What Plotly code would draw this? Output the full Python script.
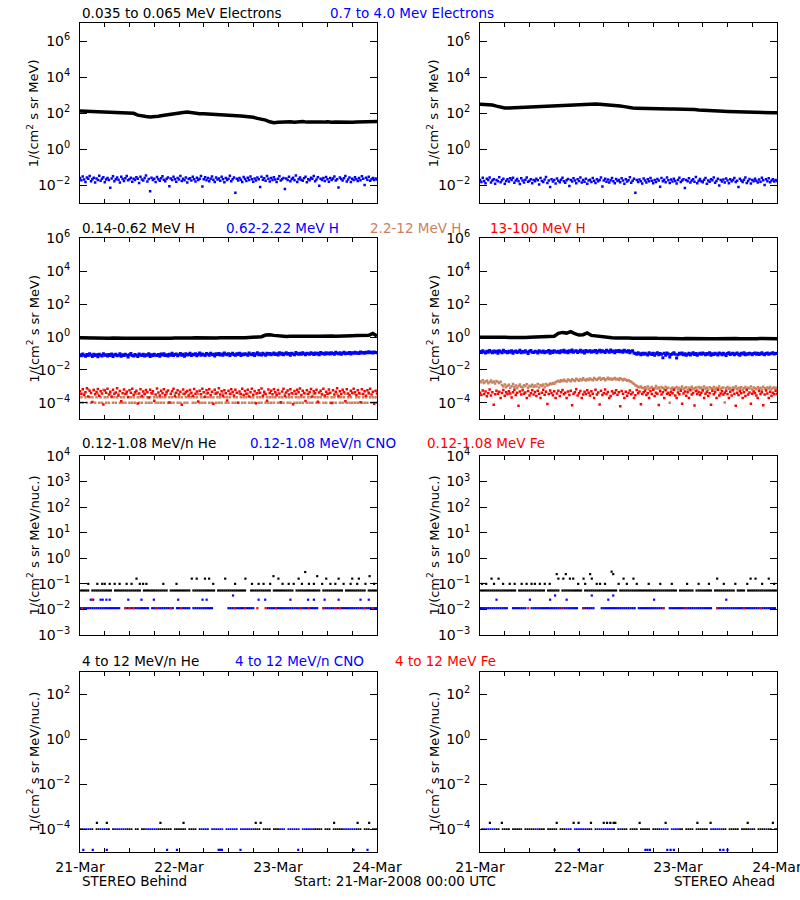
import plotly.graph_objects as go

NA = None
W, H = 800, 900

# ---------------- axes / labels ----------------
DAY_LABELS = ["21-Mar", "22-Mar", "23-Mar", "24-Mar"]
HOURS_60 = list(range(73))                 # hourly cadence, hours since 21-Mar 00:00
HOURS_30 = [i * 0.5 for i in range(145)]   # 30-min cadence
HOURS_20 = [i / 3 for i in range(217)]     # 20-min cadence

# ---------------- row 1 : electrons (log10 x100) ----------------
E_LO_L = [213, 212, 211, 210, 209, 207, 207, 206, 205, 205, 204, 203, 202, 200,
          190, 184, 182, 180, 181, 184, 188, 192, 196, 200, 203, 205, 207, 203,
          200, 198, 198, 197, 197, 195, 194, 193, 191, 189, 187, 185, 183, 181, 178, 172,
          168, 162, 153, 148, 150, 152,
          151, 153, 150, 152, 154, 151, 150, 153, 152, 151, 153, 150, 152, 151, 153, 152,
          150, 152, 153, 154, 153, 155, 155]
E_LO_R = [250, 249, 248, 246, 240, 233, 230, 229, 230, 231, 232, 233, 235, 236, 237,
          238, 239, 240, 242, 243, 244, 245, 247, 249, 250, 251, 252, 252, 251, 250,
          249, 248, 246, 243, 241, 237, 232, 229, 228, 227, 227, 226, 226, 225, 225,
          225, 224, 224, 224, 224, 223, 222, 221, 219, 217, 215, 213, 212, 211, 211,
          210, 209, 209, 208, 208, 207, 207, 206, 205, 205, 204, 203, 203]
E_HI_L = [
    -160, -172, -151, -168, -181, -156, -163, -149, -177, -166, -158, -185, -162, -170, -147, -175, -164, -155, -183, -168,
    -159, -171, -214, -162, -150, -178, -166, -157, -169, -184, -153, -165, -176, -161, -148, -172, -167, -158, -180, -163,
    -170, -155, -164, -187, -152, -168, -174, -160, -146, -179, -165, -233, -158, -171, -163, -182, -154, -167, -175, -161,
    -150, -169, -178, -164, -157, -205, -162, -171, -153, -166, -180, -159, -168, -148, -176, -163, -172, -156, -184, -165,
    -161, -174, -152, -167, -179, -158, -170, -163, -149, -207, -166, -155, -172, -160, -177, -164, -151, -169, -181, -157,
    -168, -162, -175, -153, -166, -183, -159, -171, -164, -147, -178, -167, -156, -242, -163, -173, -160, -169, -182, -154,
    -165, -176, -158, -170, -151, -167, -180, -162, -173, -157, -166, -210, -152, -169, -161, -175, -148, -164, -179, -160,
    -171, -155, -168, -182, -163, -150, -174, -166, -159, -221, -162, -170, -153, -177, -165, -158, -172, -146, -181, -167,
    -157, -169, -175, -161, -152, -183, -166, -172, -158, -164, -149, -178, -168, -155, -203, -163, -171, -160, -176, -154,
    -166, -180, -159, -170, -162, -151, -174, -167, -212, -156, -165, -173, -161, -148, -179, -168, -157, -182, -163, -170,
    -155, -167, -176, -160, -172, -150, -164, -198, -158, -169, -153, -175, -166, -159, -171, -162, -168]
E_HI_R = [
    -170, -181, -158, -176, -189, -164, -171, -157, -185, -174, -166, -192, -170, -178, -155, -183, -172, -163, -191, -176,
    -167, -179, -161, -170, -158, -186, -174, -165, -177, -193, -161, -173, -184, -169, -156, -180, -175, -166, -188, -171,
    -178, -163, -172, -195, -160, -176, -182, -168, -154, -187, -173, -210, -166, -179, -171, -190, -162, -175, -183, -169,
    -158, -177, -186, -172, -165, -204, -170, -179, -161, -174, -188, -167, -176, -156, -184, -171, -180, -164, -192, -173,
    -169, -182, -160, -175, -187, -166, -178, -171, -157, -206, -174, -163, -180, -168, -185, -172, -159, -177, -189, -165,
    -176, -170, -183, -161, -174, -191, -167, -179, -172, -155, -186, -175, -164, -241, -171, -181, -168, -177, -190, -162,
    -173, -184, -166, -178, -159, -175, -188, -170, -181, -165, -174, -208, -160, -177, -169, -183, -156, -172, -187, -168,
    -179, -163, -176, -190, -171, -158, -182, -174, -167, -215, -170, -178, -161, -185, -173, -166, -180, -154, -189, -175,
    -165, -177, -183, -169, -160, -191, -174, -180, -166, -172, -157, -186, -176, -163, -201, -171, -179, -168, -184, -162,
    -174, -188, -167, -178, -170, -159, -182, -175, -209, -164, -173, -181, -169, -156, -187, -176, -165, -190, -171, -178,
    -163, -175, -184, -168, -180, -158, -172, -199, -166, -177, -161, -183, -174, -167, -179, -170, -176]

# ---------------- row 2 : protons (log10 x100) ----------------
H_LO_L = [-5, -6, -7, -6, -5, -7, -8, -7, -6, -8, -9, -8, -7, -8, -9, -10, -9, -8, -7, -8,
          -9, -8, -7, -6, -7, -8, -7, -6, -5, -6, -7, -6, -5, -6, -5, -4, -5, -6, -5, -4,
          -5, -4, -3, -2, 2,
          12, 14, 10, 6, 4, 3, 4, 5, 3, 4, 5, 6, 5, 4, 6, 7, 6, 5, 7, 8, 7, 8, 9, 10, 11, 10, 22, 6]
H_LO_R = [-2, -3, -2, -1, -3, -2, -2, -3, -4, -3, -2, -3, -2, -1, -2, -3, -2, -1,
          5, 22, 28, 24, 33, 20, 12, 14, 25, 10, 6, 3, -2, -4,
          -5, -6, -5, -7, -6, -8, -7, -8, -9, -8, -7, -8, -9, -10, -9, -8, -9, -10, -9, -10,
          -11, -10, -9, -10, -11, -10, -9, -10, -11, -10, -9, -10, -11, -10, -9, -10, -9, -10, -11, -10, -10]
H_MID_L = [
    -108, -114, -103, -111, -117, -106, -112, -101, -109, -118, -105, -113, -107, -120, -104, -110, -115, -102, -111, -108,
    -116, -106, -112, -103, -119, -109, -105, -114, -110, -101, -117, -108, -113, -104, -111, -122, -107, -100, -112, -115,
    -106, -110, -118, -103, -109, -113, -105, -116, -108, -111, -102, -119, -107, -114, -104, -110, -112, -106, -117, -103,
    -109, -101, -113, -107, -115, -104, -110, -98, -112, -106, -103, -114, -108, -100, -111, -105, -117, -102, -109, -106,
    -99, -112, -104, -108, -101, -114, -106, -97, -110, -103, -107, -113, -100, -105, -111, -98, -108, -104, -115, -102,
    -106, -100, -109, -103, -111, -97, -105, -108, -101, -113, -104, -99, -107, -110, -102, -106, -98, -112, -103, -108,
    -101, -105, -110, -97, -104, -108, -100, -112, -103, -96, -107, -102, -109, -99, -105, -111, -98, -104, -100, -107,
    -103, -97, -106, -101, -109, -95, -104, -99, -108, -102, -96, -105, -100, -110, -98, -103, -107, -94, -101, -105,
    -99, -104, -96, -102, -107, -98, -101, -105, -95, -100, -106, -97, -103, -99, -108, -94, -102, -98, -104, -96,
    -101, -97, -103, -95, -100, -105, -93, -99, -102, -96, -104, -98, -92, -101, -97, -100, -94, -103, -96, -99,
    -93, -98, -95, -100, -91, -97, -94, -99, -92, -96, -90, -95, -93, -97, -91, -94, -96]
H_MID_R = [
    -88, -94, -84, -91, -97, -86, -92, -82, -89, -96, -85, -93, -87, -99, -83, -90, -95, -81, -91, -88,
    -95, -86, -92, -83, -98, -89, -85, -94, -90, -80, -96, -88, -93, -84, -91, -100, -87, -82, -92, -94,
    -86, -90, -97, -83, -89, -93, -85, -95, -88, -91, -82, -98, -87, -94, -84, -90, -92, -86, -96, -83,
    -89, -81, -93, -87, -95, -84, -90, -79, -92, -86, -83, -94, -88, -80, -91, -85, -97, -82, -89, -86,
    -84, -92, -85, -89, -82, -95, -87, -80, -91, -84, -88, -94, -81, -86, -92, -79, -89, -85, -96, -83,
    -88, -82, -90, -85, -93, -80, -87, -91, -84, -95, -86, -83, -97, -100, -104, -96, -102, -108, -99, -105,
    -98, -103, -109, -96, -101, -106, -99, -111, -102, -95, -107, -100, -104, -126, -98, -110, -97, -103, -122, -106,
    -101, -96, -105, -127, -108, -99, -103, -97, -107, -101, -110, -104, -98, -109, -102, -96, -106, -100, -111, -103,
    -99, -105, -97, -102, -108, -100, -104, -96, -110, -101, -106, -98, -103, -109, -97, -102, -107, -99, -104, -112,
    -100, -95, -106, -102, -98, -108, -101, -97, -104, -110, -99, -103, -96, -107, -101, -105, -98, -102, -108, -100,
    -97, -104, -99, -106, -101, -95, -103, -108, -100, -97, -105, -102, -99, -96, -103, -100, -98]
H_TAN_L = [
    -400, -366, -400, -345, -366, -400, -318, -366, -400, -366, -322, -400, -366, -345, -400, -366, -400, -320, -366, -400,
    -366, -400, -345, -366, -400, -366, -400, -366, -345, -400, -366, -400, -366, -400, -345, -366, -400, -366, -400, -366,
    -400, -345, -366, -400, -366, -400, -366, -345, -400, -366, -400, -366, -400, -345, -366, -400, -366, -400, -366, -400,
    -366, -400, -366, -345, -400, -366, -400, -366, -400, -345, -366, -400, -366, -400, -366, -345, -400, -366, -400, -366,
    -345, -366, -400, -366, -400, -366, -345, -400, -366, -400, -366, -400, -345, -366, -400, -366, -400, -366, -345, -400,
    -366, -400, -366, -400, -345, -366, -400, -366, -400, -366, -345, -400, -366, -400, -366, -400, -345, -366, -400, -366,
    -400, -366, -345, -400, -366, -400, -366, -400, -345, -366, -400, -366, -400, -366, -345, -400, -366, -400, -366, -400,
    -366, -400, -366, -345, -400, -366, -400, -366, -400, -345, -366, -400, -366, -400, -366, -345, -400, -366, -400, -366,
    -400, -366, -400, -366, -345, -400, -366, -400, -366, -400, -345, -366, -400, -366, -400, -366, -345, -400, -366, -400,
    -366, -345, -400, -366, -400, -366, -400, -345, -366, -400, -366, -400, -366, -345, -400, -366, -400, -366, -400, -345,
    -400, -366, -400, -366, -345, -400, -366, -400, -366, -400, -345, -366, -400, -366, -400, -366, -400]
H_TAN_R = [
    -268, -275, -262, -279, -270, -266, -281, -273, -264, -277, -271, -283, -267, -274, -280, -272, -292, -301, -288, -305,
    -296, -290, -309, -299, -285, -303, -294, -311, -297, -288, -302, -306, -293, -299, -287, -308, -296, -301, -290, -304,
    -295, -300, -286, -307, -292, -298, -289, -303, -285, -294, -290, -282, -287, -279, -284, -275, -270, -266, -272, -262,
    -268, -259, -265, -271, -258, -263, -269, -256, -262, -267, -254, -260, -266, -257, -263, -251, -259, -264, -255, -261,
    -252, -258, -263, -249, -256, -261, -253, -247, -259, -254, -250, -262, -256, -248, -257, -252, -260, -255, -249, -258,
    -254, -261, -251, -257, -263, -255, -259, -266, -262, -268, -272, -280, -286, -293, -298, -302, -306, -300, -308, -312,
    -305, -314, -301, -318, -309, -303, -316, -311, -298, -313, -307, -320, -304, -310, -317, -302, -312, -308, -399, -315,
    -306, -318, -311, -303, -319, -308, -314, -300, -316, -310, -305, -321, -309, -313, -302, -317, -311, -306, -320, -304,
    -312, -307, -318, -301, -314, -309, -322, -305, -311, -316, -303, -319, -308, -313, -300, -317, -310, -306, -398, -312,
    -304, -315, -310, -320, -307, -312, -301, -318, -309, -314, -305, -321, -311, -303, -316, -308, -313, -300, -319, -306,
    -311, -317, -305, -314, -309, -320, -302, -312, -316, -307, -313, -304, -318, -310, -306, -315, -309]
H_HI_L = [
    -330, -345, -318, -352, -336, -311, -362, -327, -340, -395, -322, -348, -334, -316, -357, -329, -343, -410, -325, -338,
    -314, -350, -332, -361, -321, -344, -337, -312, -355, -328, -390, -341, -319, -347, -333, -365, -324, -339, -315, -351,
    -336, -326, -404, -343, -317, -358, -331, -346, -322, -335, -368, -320, -342, -330, -388, -349, -313, -337, -356, -327,
    -341, -318, -353, -334, -325, -398, -345, -329, -314, -360, -338, -323, -350, -332, -412, -319, -346, -336, -328, -355,
    -322, -339, -357, -316, -344, -331, -392, -327, -348, -315, -335, -363, -324, -340, -318, -352, -333, -406, -321, -343,
    -337, -312, -349, -330, -359, -323, -341, -386, -326, -345, -317, -334, -356, -320, -339, -399, -331, -347, -314, -353,
    -328, -344, -321, -362, -336, -315, -351, -329, -402, -342, -324, -338, -313, -357, -333, -346, -387, -319, -340, -326,
    -348, -317, -335, -354, -322, -343, -396, -331, -314, -359, -337, -325, -350, -318, -341, -408, -328, -345, -321, -336,
    -313, -352, -327, -340, -389, -323, -346, -334, -316, -361, -330, -342, -320, -394, -337, -326, -349, -315, -355, -332,
    -344, -319, -338, -401, -324, -350, -333, -312, -358, -329, -347, -321, -336, -391, -317, -343, -354, -326, -339, -315,
    -335, -352, -323, -341, -397, -318, -346, -330, -357, -324, -338, -314, -349, -332, -405, -327, -343]
H_HI_R = [
    -338, -352, -325, -346, -331, -360, -342, -319, -355, -336, -412, -348, -327, -344, -333, -370, -340, -322, -357, -335,
    -347, -329, -343, -368, -336, -321, -353, -339, -418, -331, -350, -324, -345, -337, -370, -328, -356, -341, -323, -349,
    -334, -359, -326, -344, -370, -338, -320, -351, -332, -407, -347, -325, -340, -354, -330, -370, -343, -327, -358, -336,
    -322, -348, -339, -370, -331, -353, -326, -415, -345, -335, -318, -356, -341, -328, -370, -350, -333, -347, -324, -339,
    -356, -330, -344, -370, -321, -349, -337, -410, -327, -352, -342, -319, -346, -334, -370, -358, -329, -343, -338, -323,
    -351, -336, -420, -328, -345, -370, -332, -357, -340, -325, -348, -337, -370, -354, -322, -342, -331, -409, -346, -335,
    -326, -353, -341, -370, -330, -347, -321, -358, -338, -344, -413, -329, -350, -336, -370, -324, -345, -339, -352, -333,
    -342, -320, -355, -370, -337, -348, -327, -405, -343, -331, -357, -336, -370, -323, -349, -340, -416, -328, -346, -334,
    -353, -339, -325, -370, -344, -332, -359, -341, -411, -327, -348, -336, -370, -321, -355, -343, -330, -350, -338, -326,
    -347, -370, -333, -356, -324, -345, -417, -339, -352, -329, -342, -370, -335, -358, -322, -349, -337, -406, -344, -331,
    -340, -355, -370, -328, -346, -336, -414, -350, -325, -343, -370, -333, -357, -339, -348, -326, -345]

# ---------------- row 3 : 0.12-1.08 MeV/n heavy ions (30-min) ----------------
HE_L_BASE = [
    .055, .055, .055, .055, .055, NA, .055, .055, .055, .055,
    .055, .055, .055, .055, .055, .055, NA, .055, .055, .055,
    .055, .055, .055, .055, .055, .055, .055, .055, .055, .055,
    NA, .055, .055, .055, .055, .055, .055, .055, .055, .055,
    .055, .055, .055, NA, .055, .055, .055, .055, .055, .055,
    .055, .055, .055, .055, NA, .055, .055, .055, .055, .055,
    .055, .055, .055, .055, .055, .055, NA, .055, .055, .055,
    .055, .055, .055, .055, .055, .055, .055, .055, .055, .055,
    .055, NA, NA, .055, .055, .055, .055, .055, .055, .055,
    .055, .055, .055, NA, .055, .055, .055, .055, .055, .055,
    .055, .055, .055, .055, NA, .055, .055, .055, .055, .055,
    .055, .055, .055, .055, .055, .055, .055, NA, .055, .055,
    .055, .055, .055, .055, .055, .055, .055, .055, NA, .055,
    .055, .055, .055, .055, .055, .055, .055, .055, .055, NA,
    .055, .055, .055, .055, .055]
CNO_L_BASE = [
    .0112, .0112, .0112, .0112, .0112, .0112, .0112, .0112, .0112, .0112,
    .0112, .0112, .0112, .0112, .0112, .0112, .0112, .0112, .0112, .0112,
    NA, NA, .0112, .0112, .0112, .0112, .0112, .0112, .0112, .0112,
    .0112, .0112, .0112, .0112, NA, .0112, .0112, .0112, .0112, .0112,
    .0112, .0112, .0112, .0112, .0112, .0112, NA, .0112, .0112, .0112,
    .0112, .0112, .0112, .0112, NA, .0112, .0112, .0112, .0112, .0112,
    .0112, .0112, .0112, .0112, .0112, NA, NA, NA, NA, NA,
    NA, NA, .0112, .0112, .0112, .0112, .0112, .0112, .0112, .0112,
    .0112, .0112, .0112, .0112, .0112, NA, NA, NA, NA, NA,
    NA, .0112, .0112, .0112, .0112, .0112, .0112, .0112, .0112, .0112,
    .0112, .0112, .0112, .0112, .0112, .0112, .0112, .0112, .0112, .0112,
    .0112, .0112, .0112, .0112, .0112, .0112, NA, NA, .0112, .0112,
    .0112, .0112, .0112, .0112, .0112, .0112, .0112, .0112, .0112, .0112,
    .0112, .0112, .0112, .0112, .0112, .0112, .0112, .0112, .0112, .0112,
    .0112, .0112, .0112, .0112, .0112]
HE_R_BASE = [
    .055, .055, .055, .055, .055, .055, .055, .055, .055, .055,
    .055, .055, .055, .055, .055, .055, .055, .055, NA, .055,
    .055, .055, .055, .055, .055, .055, .055, .055, .055, .055,
    .055, .055, NA, .055, .055, .055, .055, .055, .055, NA,
    .055, .055, .055, .055, .055, .055, .055, .055, .055, .055,
    NA, .055, .055, .055, .055, .055, .055, .055, .055, .055,
    .055, .055, .055, .055, .055, .055, .055, NA, .055, .055,
    .055, .055, .055, .055, .055, .055, .055, .055, .055, .055,
    .055, .055, .055, .055, .055, .055, .055, .055, .055, .055,
    .055, .055, .055, .055, .055, .055, NA, .055, .055, .055,
    .055, .055, .055, .055, NA, .055, .055, .055, .055, .055,
    .055, .055, .055, NA, .055, .055, .055, .055, .055, .055,
    .055, .055, .055, .055, NA, .055, .055, .055, .055, NA,
    .055, .055, .055, .055, .055, .055, .055, .055, .055, .055,
    .055, .055, .055, .055, .055]
CNO_R_BASE = [
    .0112, .0112, .0112, .0112, .0112, .0112, .0112, .0112, .0112, .0112,
    .0112, .0112, .0112, .0112, NA, NA, .0112, .0112, .0112, .0112,
    .0112, .0112, .0112, NA, NA, .0112, .0112, .0112, .0112, .0112,
    .0112, .0112, .0112, .0112, .0112, .0112, .0112, .0112, .0112, .0112,
    .0112, .0112, .0112, .0112, .0112, .0112, .0112, .0112, NA, NA,
    .0112, .0112, .0112, .0112, .0112, .0112, NA, NA, NA, .0112,
    .0112, .0112, .0112, .0112, .0112, .0112, .0112, .0112, .0112, .0112,
    .0112, .0112, .0112, .0112, .0112, .0112, NA, .0112, .0112, .0112,
    .0112, .0112, .0112, .0112, .0112, .0112, .0112, .0112, .0112, .0112,
    NA, NA, .0112, .0112, .0112, .0112, .0112, .0112, .0112, .0112,
    .0112, .0112, .0112, .0112, .0112, .0112, .0112, .0112, .0112, .0112,
    .0112, .0112, .0112, NA, NA, .0112, .0112, .0112, .0112, .0112,
    .0112, .0112, .0112, .0112, .0112, .0112, .0112, .0112, .0112, .0112,
    .0112, .0112, .0112, .0112, .0112, .0112, .0112, .0112, .0112, .0112,
    .0112, .0112, .0112, .0112, NA]

HE_L_DOT_T = [2.0, 4.2, 5.4, 6.0, 7.2, 8.4, 9.6, 11.3, 12.5, 13.7, 14.5, 15.3, 16.1, 20.2, 23.4,
              27.1, 28.3, 30.3, 31.3, 32.3, 35.2, 37.6, 40.1, 41.7, 43.3, 44.5, 46.1, 46.9, 48.1,
              49.1, 50.6, 51.8, 53.0, 53.8, 54.6, 55.5, 56.7, 57.5, 58.7, 59.7, 60.7, 61.9, 62.7,
              63.9, 65.6, 66.0, 67.2, 67.6, 69.2, 70.2, 71.3]
HE_L_DOT_V = [.1, .1, .1, .1, .1, .1, .1, .1, .1, .16, .1, .1, .1, .1, .1,
              .16, .16, .16, .16, .1, .16, .1, .16, .1, .1, .1, .1, .2, .16,
              .1, .1, .1, .16, .1, .29, .1, .1, .2, .1, .16, .1, .1, .16,
              .1, .1, .16, .1, .16, .1, .2, .1]
HE_R_DOT_T = [0.5, 1.5, 2.8, 3.4, 4.5, 5.6, 7.2, 8.4, 10.1, 11.3, 12.5, 13.3, 14.5, 15.7, 16.9,
              18.6, 19.0, 20.2, 20.8, 21.8, 22.6, 23.8, 25.1, 25.5, 26.7, 27.1, 28.3, 29.1, 30.3,
              31.9, 32.3, 33.6, 34.8, 35.6, 37.2, 38.0, 40.9, 43.7, 46.5, 50.2, 53.0, 55.5, 57.5,
              59.1, 61.9, 64.8, 65.6, 66.8, 68.4, 70.0, 71.3]
HE_R_DOT_V = [.1, .1, .16, .1, .16, .1, .1, .1, .1, .1, .1, .1, .1, .1, .1,
              .24, .16, .16, .24, .16, .16, .1, .16, .1, .24, .16, .1, .1, .1,
              .3, .24, .1, .16, .1, .16, .1, .1, .1, .1, .1, .1, .1, .16,
              .1, .1, .1, .16, .16, .1, .16, .1]
CNO_L_DOT_T = [2.6, 3.2, 5.0, 5.5, 6.4, 7.2, 11.7, 14.9, 17.9, 23.8, 29.7, 30.7, 37.1, 43.3,
               44.9, 51.0, 55.3, 56.7, 59.3, 62.7, 68.0, 70.0]
CNO_L_DOT_V = [.024, .024, .024, .024, .024, .024, .024, .024, .024, .024, .024, .024, .035, .024,
               .024, .024, .024, .024, .024, .024, .024, .024]
CNO_R_DOT_T = [4.0, 12.1, 17.0, 18.2, 21.0, 27.1, 31.1, 32.3, 42.2, 59.7]
CNO_R_DOT_V = [.024, .024, .024, .035, .024, .035, .024, .035, .024, .024]
FE_L_T = [0.5, 2.9, 11.0, 12.0, 13.0, 18.5, 22.0, 24.5, 37.5, 40.0, 43.0, 45.0, 47.5, 53.5,
          55.5, 59.0, 62.0, 63.0, 69.0, 71.0]
FE_L_V = [.0112, .024, .0112, .0112, .0112, .0112, .0112, .0112, .0112, .0112, .0112, .0112,
          .0112, .0112, .0112, .0112, .0112, .0112, .0112, .0112]
FE_R_T = [11.7, 19.8, 25.1, 44.5, 49.8, 57.5, 64.0, 68.1]
FE_R_V = [.0112, .0112, .0112, .0112, .0112, .0112, .0112, .0112]

# ---------------- row 4 : 4-12 MeV/n heavy ions (30-min) ----------------
HE4_L_BASE = [
    1e-4, 1e-4, NA, NA, NA, 1e-4, 1e-4, NA, 1e-4, 1e-4,
    NA, NA, NA, 1e-4, 1e-4, NA, 1e-4, NA, NA, NA,
    NA, NA, NA, 1e-4, 1e-4, 1e-4, NA, 1e-4, 1e-4, NA,
    1e-4, 1e-4, NA, NA, NA, NA, NA, NA, 1e-4, 1e-4,
    1e-4, 1e-4, 1e-4, 1e-4, 1e-4, NA, 1e-4, 1e-4, 1e-4, 1e-4,
    1e-4, 1e-4, NA, 1e-4, 1e-4, 1e-4, 1e-4, NA, 1e-4, NA,
    NA, NA, NA, NA, NA, NA, NA, NA, NA, NA,
    NA, NA, NA, NA, NA, NA, NA, NA, NA, NA,
    NA, NA, NA, NA, NA, 1e-4, 1e-4, 1e-4, NA, 1e-4,
    1e-4, 1e-4, 1e-4, NA, 1e-4, 1e-4, 1e-4, NA, NA, NA,
    NA, NA, NA, NA, NA, NA, NA, NA, NA, NA,
    NA, NA, NA, NA, 1e-4, 1e-4, 1e-4, 1e-4, NA, 1e-4,
    1e-4, 1e-4, NA, 1e-4, 1e-4, 1e-4, 1e-4, 1e-4, NA, NA,
    NA, NA, NA, NA, 1e-4, 1e-4, 1e-4, NA, 1e-4, 1e-4,
    1e-4, NA, 1e-4, 1e-4, 1e-4]
CNO4_L_BASE = [
    NA, NA, 1e-4, 1e-4, 1e-4, NA, NA, NA, NA, NA,
    1e-4, 1e-4, 1e-4, NA, NA, NA, NA, 1e-4, 1e-4, 1e-4,
    1e-4, 1e-4, 1e-4, NA, NA, NA, NA, NA, NA, NA,
    NA, NA, 1e-4, 1e-4, 1e-4, 1e-4, 1e-4, 1e-4, NA, NA,
    NA, NA, NA, NA, NA, NA, NA, NA, NA, NA,
    NA, NA, NA, NA, NA, NA, NA, NA, NA, 1e-4,
    1e-4, 1e-4, 1e-4, NA, 1e-4, 1e-4, 1e-4, 1e-4, 1e-4, 1e-4,
    NA, 1e-4, 1e-4, 1e-4, 1e-4, 1e-4, 1e-4, NA, 1e-4, 1e-4,
    1e-4, 1e-4, 1e-4, 1e-4, 1e-4, NA, NA, NA, NA, NA,
    NA, NA, NA, NA, NA, NA, NA, 1e-4, 1e-4, 1e-4,
    NA, 1e-4, 1e-4, 1e-4, 1e-4, 1e-4, 1e-4, NA, 1e-4, 1e-4,
    1e-4, 1e-4, 1e-4, 1e-4, NA, NA, NA, NA, NA, NA,
    NA, NA, NA, NA, NA, NA, NA, NA, 1e-4, 1e-4,
    1e-4, 1e-4, 1e-4, 1e-4, NA, NA, NA, NA, NA, NA,
    NA, NA, NA, NA, NA]
HE4_R_BASE = [
    NA, 1e-4, NA, NA, NA, NA, NA, NA, 1e-4, 1e-4,
    NA, 1e-4, 1e-4, 1e-4, 1e-4, NA, 1e-4, 1e-4, 1e-4, 1e-4,
    1e-4, NA, 1e-4, 1e-4, 1e-4, 1e-4, 1e-4, NA, NA, 1e-4,
    1e-4, 1e-4, NA, 1e-4, 1e-4, 1e-4, 1e-4, 1e-4, NA, 1e-4,
    1e-4, 1e-4, NA, NA, NA, NA, NA, NA, NA, NA,
    NA, NA, NA, 1e-4, 1e-4, NA, 1e-4, NA, NA, NA,
    NA, NA, NA, NA, NA, 1e-4, NA, 1e-4, NA, 1e-4,
    1e-4, 1e-4, NA, 1e-4, 1e-4, 1e-4, 1e-4, NA, 1e-4, 1e-4,
    1e-4, 1e-4, 1e-4, NA, 1e-4, 1e-4, 1e-4, 1e-4, NA, NA,
    NA, NA, NA, NA, NA, NA, NA, 1e-4, 1e-4, NA,
    1e-4, 1e-4, 1e-4, 1e-4, NA, 1e-4, 1e-4, 1e-4, 1e-4, 1e-4,
    1e-4, NA, NA, NA, NA, NA, NA, NA, 1e-4, 1e-4,
    NA, 1e-4, 1e-4, 1e-4, 1e-4, 1e-4, NA, 1e-4, 1e-4, 1e-4,
    1e-4, NA, 1e-4, 1e-4, NA, 1e-4, 1e-4, 1e-4, 1e-4, NA,
    1e-4, 1e-4, NA, 1e-4, 1e-4]
CNO4_R_BASE = [
    NA, NA, 1e-4, 1e-4, 1e-4, 1e-4, 1e-4, 1e-4, NA, NA,
    NA, NA, NA, NA, NA, NA, NA, NA, NA, NA,
    NA, NA, NA, NA, NA, NA, NA, 1e-4, 1e-4, NA,
    NA, NA, NA, NA, NA, NA, NA, NA, NA, NA,
    NA, NA, 1e-4, 1e-4, 1e-4, NA, 1e-4, 1e-4, 1e-4, 1e-4,
    1e-4, 1e-4, 1e-4, NA, NA, NA, NA, 1e-4, 1e-4, 1e-4,
    1e-4, 1e-4, 1e-4, 1e-4, 1e-4, NA, NA, NA, 1e-4, NA,
    NA, NA, NA, NA, NA, NA, NA, NA, NA, NA,
    NA, NA, NA, NA, NA, NA, NA, NA, 1e-4, 1e-4,
    1e-4, 1e-4, NA, 1e-4, 1e-4, 1e-4, 1e-4, NA, NA, NA,
    NA, NA, NA, NA, NA, NA, NA, NA, NA, NA,
    NA, NA, 1e-4, 1e-4, 1e-4, 1e-4, 1e-4, 1e-4, NA, NA,
    NA, NA, NA, NA, NA, NA, NA, NA, NA, NA,
    NA, 1e-4, NA, NA, NA, NA, NA, NA, NA, 1e-4,
    NA, NA, NA, NA, NA]
HE4_L_DOT_T = [4.1, 6.5, 19.5, 25.1, 42.6, 43.8, 61.6, 67.3, 70.1]
HE4_L_DOT_V = [1.9e-4, 1.9e-4, 1.9e-4, 1.9e-4, 1.9e-4, 1.9e-4, 1.9e-4, 1.9e-4, 1.9e-4]
HE4_R_DOT_T = [2.4, 5.3, 18.6, 22.7, 23.9, 26.9, 30.0, 30.8, 31.6, 32.4, 32.8, 38.7, 45.0,
               52.7, 55.9, 64.9, 71.0]
HE4_R_DOT_V = [1.9e-4, 1.9e-4, 1.9e-4, 1.9e-4, 1.9e-4, 1.9e-4, 1.9e-4, 1.9e-4, 1.9e-4,
               1.9e-4, 1.9e-4, 1.9e-4, 1.9e-4, 1.9e-4, 1.9e-4, 1.9e-4, 1.9e-4]
CNO4_L_LOW_T = [0.8, 3.1, 6.5, 21.1, 23.5, 33.6, 34.0, 34.4, 38.9, 52.9, 66.3, 69.7]
CNO4_L_LOW_V = [1.2e-5, 1.2e-5, 1.2e-5, 1.2e-5, 1.2e-5, 1.2e-5, 1.2e-5, 1.2e-5, 1.2e-5,
                1.2e-5, 1.2e-5, 1.2e-5]
CNO4_R_LOW_T = [18.1, 23.9, 40.1, 40.6, 41.2, 45.4, 46.2, 47.0, 58.2, 59.0, 60.0]
CNO4_R_LOW_V = [1.2e-5, 1.2e-5, 1.2e-5, 1.2e-5, 1.2e-5, 1.2e-5, 1.2e-5, 1.2e-5, 1.2e-5,
                1.2e-5, 1.2e-5]

# ---------------- text ----------------
ROW_TITLES = [
    [("0.035 to 0.065 MeV Electrons", "#000000", 80), ("0.7 to 4.0 Mev Electrons", "#0000FF", 328)],
    [("0.14-0.62 MeV H", "#000000", 80), ("0.62-2.22 MeV H", "#0000FF", 224),
     ("2.2-12 MeV H", "#C8825F", 368), ("13-100 MeV H", "#FF0000", 488)],
    [("0.12-1.08 MeV/n He", "#000000", 80), ("0.12-1.08 MeV/n CNO", "#0000FF", 248),
     ("0.12-1.08 MeV Fe", "#FF0000", 425)],
    [("4 to 12 MeV/n He", "#000000", 80), ("4 to 12 MeV/n CNO", "#0000FF", 233),
     ("4 to 12 MeV Fe", "#FF0000", 393)],
]
Y_TITLES = ["1/(cm<sup>2</sup> s sr MeV)", "1/(cm<sup>2</sup> s sr MeV)",
            "1/(cm<sup>2</sup> s sr MeV/nuc.)", "1/(cm<sup>2</sup> s sr MeV/nuc.)"]

for arr, n in [(E_HI_L, 217), (E_HI_R, 217), (H_MID_L, 217), (H_MID_R, 217), (H_TAN_L, 217),
               (H_TAN_R, 217), (H_HI_L, 217), (H_HI_R, 217), (E_LO_L, 73), (E_LO_R, 73),
               (H_LO_L, 73), (H_LO_R, 73), (HE_L_BASE, 145), (CNO_L_BASE, 145), (HE_R_BASE, 145),
               (CNO_R_BASE, 145), (HE4_L_BASE, 145), (CNO4_L_BASE, 145), (HE4_R_BASE, 145),
               (CNO4_R_BASE, 145)]:
    assert len(arr) == n, (len(arr), n)


def lg(v):
    return [10 ** (a / 100.0) for a in v]


# ---------------- geometry ----------------
PX_L = [80, 480]
PX_R = [377, 777]
ROW_TOP = [23.3, 238.3, 456.0, 671.7]
ROW_BOT = [203.3, 419.3, 635.0, 851.7]
Y_RANGE = [(-3, 7), (-5, 6), (-3, 4), (-5, 3)]
Y_TICK_EXP = [[-2, 0, 2, 4, 6], [-4, -2, 0, 2, 4, 6], [-3, -2, -1, 0, 1, 2, 3, 4], [-4, -2, 0, 2]]
FONT = "DejaVu Sans"
BLACK, BLUE, RED, TAN = "#000000", "#0000FF", "#FF0000", "#C8825F"

fig = go.Figure()


def add(k, x, y, color, size=2.5, mode="markers", width=None):
    tr = dict(x=x, y=y, xaxis="x%d" % k, yaxis="y%d" % k, mode=mode, showlegend=False,
              hoverinfo="skip", connectgaps=False)
    if mode == "markers":
        tr["marker"] = dict(color=color, size=size, symbol="square", line=dict(width=0))
    else:
        tr["line"] = dict(color=color, width=width)
    fig.add_trace(go.Scatter(**tr))


# row 1
add(1, HOURS_60, lg(E_LO_L), BLACK, mode="lines", width=3.5)
add(1, HOURS_20, lg(E_HI_L), BLUE, size=2.5)
add(2, HOURS_60, lg(E_LO_R), BLACK, mode="lines", width=3.5)
add(2, HOURS_20, lg(E_HI_R), BLUE, size=2.5)
# row 2
add(3, HOURS_60, lg(H_LO_L), BLACK, mode="lines", width=3.5)
add(3, HOURS_20, lg(H_MID_L), BLUE, size=3)
add(3, HOURS_20, lg(H_TAN_L), TAN, size=2.5)
add(3, HOURS_20, lg(H_HI_L), RED, size=2.5)
add(4, HOURS_60, lg(H_LO_R), BLACK, mode="lines", width=3.5)
add(4, HOURS_20, lg(H_MID_R), BLUE, size=3)
add(4, HOURS_20, lg(H_TAN_R), TAN, size=2.5)
add(4, HOURS_20, lg(H_HI_R), RED, size=2.5)
# row 3
add(5, HOURS_30, HE_L_BASE, BLACK, size=2.2)
add(5, HE_L_DOT_T, HE_L_DOT_V, BLACK, size=2.2)
add(5, HOURS_30, CNO_L_BASE, BLUE, size=2.2)
add(5, CNO_L_DOT_T, CNO_L_DOT_V, BLUE, size=2.2)
add(5, FE_L_T, FE_L_V, RED, size=2.2)
add(6, HOURS_30, HE_R_BASE, BLACK, size=2.2)
add(6, HE_R_DOT_T, HE_R_DOT_V, BLACK, size=2.2)
add(6, HOURS_30, CNO_R_BASE, BLUE, size=2.2)
add(6, CNO_R_DOT_T, CNO_R_DOT_V, BLUE, size=2.2)
add(6, FE_R_T, FE_R_V, RED, size=2.2)
# row 4
add(7, HOURS_30, HE4_L_BASE, BLACK, size=1.8)
add(7, HOURS_30, CNO4_L_BASE, BLUE, size=1.8)
add(7, HE4_L_DOT_T, HE4_L_DOT_V, BLACK, size=2.2)
add(7, CNO4_L_LOW_T, CNO4_L_LOW_V, BLUE, size=2.2)
add(8, HOURS_30, HE4_R_BASE, BLACK, size=1.8)
add(8, HOURS_30, CNO4_R_BASE, BLUE, size=1.8)
add(8, HE4_R_DOT_T, HE4_R_DOT_V, BLACK, size=2.2)
add(8, CNO4_R_LOW_T, CNO4_R_LOW_V, BLUE, size=2.2)

# ---------------- axes ----------------
x_tickvals = [6 * i for i in range(13)]
x_ticktext = []
for v in x_tickvals:
    x_ticktext.append(DAY_LABELS[v // 24] if v % 24 == 0 else "")

layout = dict(width=W, height=H, margin=dict(l=0, r=0, t=0, b=0, autoexpand=False),
              autosize=False, template="none",
              paper_bgcolor="white", plot_bgcolor="white", showlegend=False,
              font=dict(family=FONT, size=14, color="black"))
ann = []
for k in range(1, 9):
    row, col = (k - 1) // 2, (k - 1) % 2
    xd = [PX_L[col] / W, PX_R[col] / W]
    yd = [1 - ROW_BOT[row] / H, 1 - ROW_TOP[row] / H]
    layout["xaxis%d" % k] = dict(
        domain=xd, range=[0, 72], anchor="y%d" % k, tickmode="array", automargin=False,
        tickvals=x_tickvals, ticktext=x_ticktext, ticks="inside", ticklen=4,
        tickcolor="black", mirror="ticks", showline=True, linecolor="black", linewidth=1,
        showgrid=False, zeroline=False, showticklabels=(row == 3), ticklabelstandoff=2,
        ticklabeloverflow="allow",
        tickfont=dict(family=FONT, size=14, color="black"), fixedrange=True)
    exps = Y_TICK_EXP[row]
    layout["yaxis%d" % k] = dict(
        domain=yd, type="log", range=list(Y_RANGE[row]), anchor="x%d" % k, tickmode="array",
        tickvals=[10.0 ** e for e in exps], automargin=False,
        ticktext=["10<sup>%s</sup>" % (str(e).replace("-", "\u2212")) for e in exps],
        ticks="inside", ticklen=7, tickcolor="black", mirror="ticks", showline=True,
        linecolor="black", linewidth=1, showgrid=False, zeroline=False, ticklabelstandoff=6,
        ticklabeloverflow="allow",
        tickfont=dict(family=FONT, size=14, color="black"), fixedrange=True)
    # y-axis title
    ann.append(dict(text=Y_TITLES[row], x=(33 if col == 0 else 433) / W,
                    y=1 - (ROW_TOP[row] + ROW_BOT[row]) / 2 / H, xref="paper", yref="paper",
                    showarrow=False, textangle=-90, xanchor="center", yanchor="middle",
                    font=dict(family=FONT, size=13, color="black")))

TITLE_Y = [13, 228, 443, 661]
for row, items in enumerate(ROW_TITLES):
    for text, color, xpx in items:
        ann.append(dict(text=text, x=xpx / W, y=1 - TITLE_Y[row] / H, xref="paper", yref="paper",
                        showarrow=False, xanchor="left", yanchor="middle",
                        font=dict(family=FONT, size=13.5, color=color)))

ann.append(dict(text="STEREO Behind", x=80 / W, y=1 - 881 / H, xref="paper", yref="paper",
                showarrow=False, xanchor="left", yanchor="middle",
                font=dict(family=FONT, size=13.5, color="black")))
ann.append(dict(text="Start: 21-Mar-2008 00:00 UTC", x=292 / W, y=1 - 881 / H, xref="paper",
                yref="paper", showarrow=False, xanchor="left", yanchor="middle",
                font=dict(family=FONT, size=13.5, color="black")))
ann.append(dict(text="STEREO Ahead", x=777 / W, y=1 - 881 / H, xref="paper", yref="paper",
                showarrow=False, xanchor="right", yanchor="middle",
                font=dict(family=FONT, size=13.5, color="black")))
layout["annotations"] = ann
fig.update_layout(**layout)

fig.write_html("out.html", config={"displayModeBar": False, "staticPlot": True},
               post_script="document.body.style.margin='0';")
